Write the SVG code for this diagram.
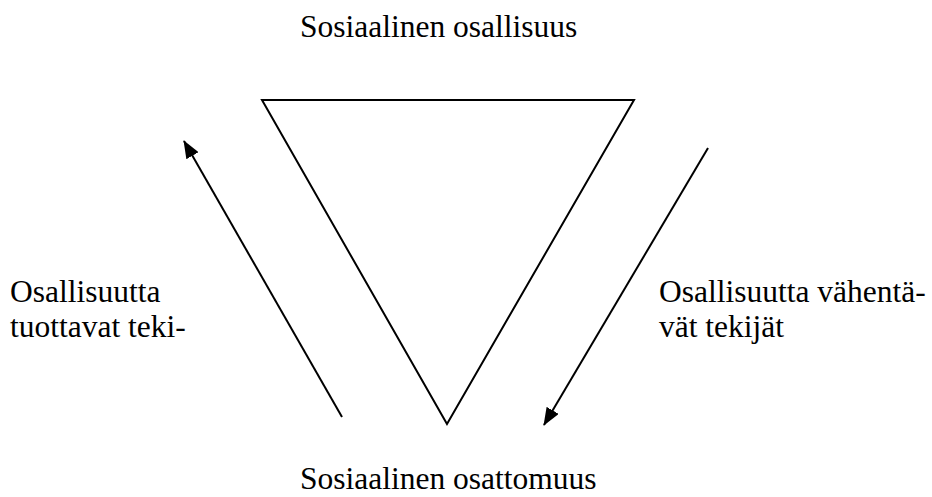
<svg xmlns="http://www.w3.org/2000/svg" width="932" height="497" viewBox="0 0 932 497">
<style>
.ln{stroke:#000;stroke-width:2;fill:none}
</style>
<defs>
<marker id="ah" viewBox="0 0 18 14" refX="17" refY="7" markerWidth="18" markerHeight="14" markerUnits="userSpaceOnUse" orient="auto">
<path d="M0,0 L18,7 L0,14 z" fill="#000"/>
</marker>
</defs>
<rect width="932" height="497" fill="#fff"/>
<g id="triangle"><polygon class="ln" points="262,100 634,100 447,424"/></g>
<g font-family="Liberation Serif" font-size="31.5" fill="#000">
<g id="top-label"><text x="300" y="37">Sosiaalinen osallisuus</text></g>
<g id="bottom-label"><text x="300" y="489">Sosiaalinen osattomuus</text></g>
<g id="left-label"><text x="10" y="302">Osallisuutta</text><text x="10" y="337">tuottavat teki-</text></g>
<g id="right-label"><text x="659" y="302">Osallisuutta vähentä-</text><text x="659" y="337">vät tekijät</text></g>
</g>
<g id="connectors">
<line class="ln" x1="342" y1="417" x2="184" y2="141" marker-end="url(#ah)"/>
<line class="ln" x1="708" y1="148" x2="544" y2="425" marker-end="url(#ah)"/>
</g>
</svg>
